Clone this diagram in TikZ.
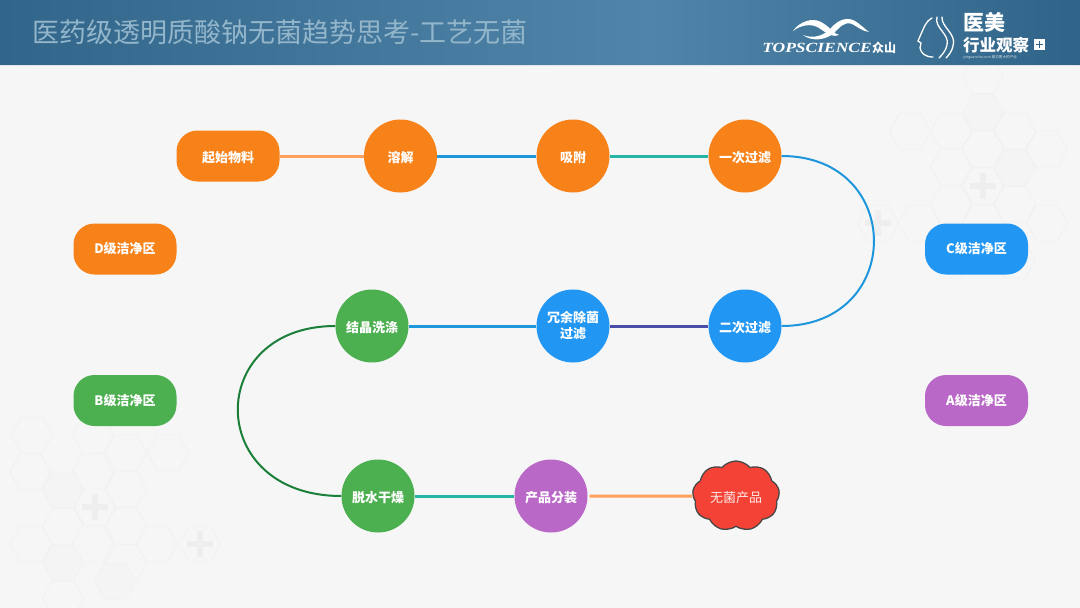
\documentclass[tikz,border=0pt]{standalone}
\usepackage{fontspec}
\setmainfont{Noto Sans CJK SC}
\newfontfamily\logofont{Liberation Serif}
\usetikzlibrary{shapes.symbols,positioning}
\definecolor{bgpage}{HTML}{F6F6F6}
\definecolor{bandA}{HTML}{32658A}
\definecolor{bandB}{HTML}{5085A9}
\definecolor{bandC}{HTML}{2F6488}
\definecolor{ttlblue}{HTML}{93B6CB}
\definecolor{zoneD}{HTML}{F8821A}
\definecolor{zoneC}{HTML}{2196F3}
\definecolor{zoneB}{HTML}{4CAF50}
\definecolor{zoneA}{HTML}{B968C7}
\definecolor{zoneR}{HTML}{F44336}
\definecolor{hexline}{HTML}{F1F1F1}
\definecolor{hexfill}{HTML}{F4F4F4}
\definecolor{hexplus}{HTML}{EEEEEE}
\definecolor{lnkorange}{HTML}{FFA05C}
\definecolor{lnkblue}{HTML}{1E96DC}
\definecolor{lnkteal}{HTML}{26B5A5}
\definecolor{lnkindigo}{HTML}{4A4EA8}
\definecolor{lnkgreen}{HTML}{1B7F3A}
\newcommand{\lowtxt}[1]{\raisebox{-1.4pt}[11pt][1pt]{#1}}

\begin{document}
\begin{tikzpicture}[
  x=1pt, y=-1pt,
  pill/.style={rectangle, rounded corners=21pt, fill=#1, text=white, font=\fontsize{13}{16}\selectfont\bfseries,
               minimum width=103pt, minimum height=51pt, inner sep=0pt},
  disc/.style={circle, fill=#1, text=white, font=\fontsize{13}{16}\selectfont\bfseries, align=center,
               minimum size=73pt, inner sep=0pt},
  lnk/.style={line width=3pt, draw=#1},
  bow/.style={line width=2pt, draw=#1},
  %---- background cells ----
  pics/hexcell/.style={code={
    \draw[hexline, fill=#1, line width=0.8pt] (-20.5,0) -- (-10.5,-18) -- (10.5,-18) -- (20.5,0) -- (10.5,18) -- (-10.5,18) -- cycle;}},
  pics/hexcell/.default=bgpage,
  pics/hexcross/.style={code={
    \draw[hexline, fill=bgpage, line width=0.8pt] (-20.5,0) -- (-10.5,-18) -- (10.5,-18) -- (20.5,0) -- (10.5,18) -- (-10.5,18) -- cycle;
    \fill[hexplus] (-13,-2.8) rectangle (13,2.8);
    \fill[hexplus] (-2.8,-13) rectangle (2.8,13);}},
]
\useasboundingbox (0,0) rectangle (1080,608);
\fill[bgpage] (0,0) rectangle (1080,608);

% ---------- background ----------
\foreach \x/\y in {32/435,93/435,126/453,168/453,30/472,93/472,126/489,63/526,126/526,31/544,93/544,157/544,126/563,63/598,
                   983/76,910/131,951/131,1015/131,983/149,1047/149,951/167,951/204,1015/204,919/223,983/223,1047/223,1015/260,951/260}
  {\pic at (\x,\y) {hexcell};}
\foreach \x/\y in {63/490,63/563,115/581,983/112,1015/168}
  {\pic at (\x,\y) {hexcell=hexfill};}
\foreach \x/\y in {95/507,200/544,983/186,878/223}
  {\pic at (\x,\y) {hexcross};}

% ---------- header band ----------
\shade[left color=bandA, right color=bandB] (0,0) rectangle (650,65);
\shade[left color=bandB, right color=bandC] (650,0) rectangle (1080,65);
\fill[white!90!black] (0,65) rectangle (1080,66);
\node[anchor=west, inner sep=0pt, text=ttlblue, font=\fontsize{27}{30}\selectfont] (ttl) at (32,32) {医药级透明质酸钠无菌趋势思考-工艺无菌};

% ---------- logo left ----------
\fill[white] (793,31) .. controls (799,22) and (812,17) .. (821,22) .. controls (829,26) and (834,34) .. (839,35)
  .. controls (834,38) and (826,33) .. (819,28) .. controls (811,23) and (801,25) .. (793,31) -- cycle;
\fill[white] (803,35) .. controls (813,39) and (824,36) .. (831,28) .. controls (838,20) and (848,15) .. (858,23)
  .. controls (862,26) and (865,29) .. (869,32) .. controls (862,31) and (858,27) .. (852,24) .. controls (845,21) and (840,27) .. (834,33)
  .. controls (826,40) and (812,42) .. (803,35) -- cycle;
\node[anchor=west, inner sep=0pt, text=white, xscale=1.25, font=\fontsize{14}{15}\selectfont] (topsci) at (762,48) {\logofont\bfseries\itshape TOPSCIENCE};
\node[anchor=west, inner sep=0pt, text=white, font=\fontsize{12}{15}\selectfont\bfseries] (zsh) at (872,48) {众山};

% ---------- logo right ----------
\draw[white, line width=1.3pt, line cap=round] (932,18) .. controls (925,22) and (924,28) .. (921,34) -- (918,41) -- (921,43) -- (920,48)
  .. controls (921,53) and (925,57) .. (933,57);
\draw[white, line width=1.3pt, line cap=round] (937,17) .. controls (934,28) and (950,34) .. (947,45) .. controls (946,50) and (943,54) .. (939,58);
\draw[white, line width=1.3pt, line cap=round] (942,17) .. controls (941,27) and (957,34) .. (953,46) .. controls (952,51) and (949,55) .. (946,58);
\node[anchor=west, inner sep=0pt, text=white, font=\fontsize{21}{23}\selectfont\bfseries] (yimei) at (963,22) {医美};
\node[anchor=west, inner sep=0pt, text=white, font=\fontsize{16.5}{18}\selectfont\bfseries] (hangye) at (963,45) {行业观察};
\fill[white] (1034,39) rectangle (1045,50);
\fill[bandC] (1035.8,43.6) rectangle (1043.2,45.4);
\fill[bandC] (1038.6,40.8) rectangle (1040.4,48.2);
\node[anchor=west, inner sep=0pt, text=white!80!bandC, font=\fontsize{3.6}{4}\selectfont] (yurl) at (963,57) {yinguancha.com 看见更大的产业};

% ---------- row 1 ----------
\node[pill=zoneD] (qishi) at (228,156) {\lowtxt{起始物料}};
\node[disc=zoneD] (rongjie) at (400.5,156) {\lowtxt{溶解}};
\node[disc=zoneD] (xifu) at (573,156) {\lowtxt{吸附}};
\node[disc=zoneD] (guolvA) at (745,156) {\lowtxt{一次过滤}};
% ---------- row 2 ----------
\node[disc=zoneC] (guolvB) at (745,326) {\lowtxt{二次过滤}};
\node[disc=zoneC] (rongyu) at (573,326) {冗余除菌\\过滤};
\node[disc=zoneB] (jiejing) at (372,326) {\lowtxt{结晶洗涤}};
% ---------- row 3 ----------
\node[disc=zoneB] (tuoshui) at (378,496) {\lowtxt{脱水干燥}};
\node[disc=zoneA] (fenzhuang) at (551,496) {\lowtxt{产品分装}};
\node[cloud, cloud puffs=9, cloud puff arc=100, aspect=1.2, draw=black!72, line width=1.3pt, fill=zoneR, text=white!88!zoneR,
      font=\fontsize{13}{16}\selectfont, minimum width=87pt, minimum height=70pt, inner sep=0pt] (wujun) at (736,496) {\lowtxt{无菌产品}};
% ---------- legend ----------
\node[pill=zoneD] (zoneDbox) at (125,249) {D级洁净区};
\node[pill=zoneB] (zoneBbox) at (125,400.5) {B级洁净区};
\node[pill=zoneC] (zoneCbox) at (976.5,249) {C级洁净区};
\node[pill=zoneA] (zoneAbox) at (976.5,400.5) {A级洁净区};

% ---------- connectors ----------
\draw[lnk=lnkorange] (qishi.east) -- (rongjie.west);
\draw[lnk=lnkblue] (rongjie.east) -- (xifu.west);
\draw[lnk=lnkteal] (xifu.east) -- (guolvA.west);
\draw[bow=lnkblue] (guolvA.east) .. controls +(123,0) and +(123,0) .. (guolvB.east);
\draw[lnk=lnkindigo] (guolvB.west) -- (rongyu.east);
\draw[lnk=lnkblue] (rongyu.west) -- (jiejing.east);
\draw[bow=lnkgreen] (jiejing.west) .. controls +(-131,0) and +(-137,0) .. (tuoshui.west);
\draw[lnk=lnkteal] (tuoshui.east) -- (fenzhuang.west);
\draw[lnk=lnkorange] ([xshift=2pt]fenzhuang.east) -- (wujun.west);
\end{tikzpicture}
\end{document}
